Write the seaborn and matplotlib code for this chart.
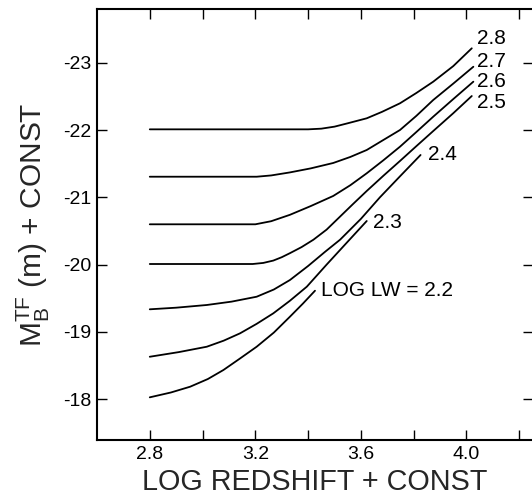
import numpy as np
import pandas as pd
import matplotlib
matplotlib.use("Agg")
import matplotlib.pyplot as plt
import seaborn as sns
from matplotlib.ticker import FixedLocator, FixedFormatter

# Tully-Fisher magnitude vs log redshift, one curve per log line width
lw_28_x = [2.80, 3.00, 3.20, 3.40, 3.45, 3.50, 3.55, 3.622, 3.68, 3.748, 3.81, 3.874, 3.95, 4.020]
lw_28_y = [-22.01, -22.01, -22.01, -22.01, -22.02, -22.05, -22.10, -22.174, -22.27, -22.397,
           -22.55, -22.718, -22.95, -23.214]

lw_27_x = [2.80, 3.00, 3.205, 3.26, 3.331, 3.41, 3.495, 3.56, 3.622, 3.68, 3.748, 3.81,
           3.874, 3.95, 4.026]
lw_27_y = [-21.306, -21.306, -21.306, -21.325, -21.37, -21.43, -21.51, -21.60, -21.703,
           -21.84, -22.00, -22.21, -22.446, -22.69, -22.94]

lw_26_x = [2.80, 3.00, 3.20, 3.26, 3.331, 3.41, 3.495, 3.56, 3.622, 3.685, 3.748, 3.81,
           3.874, 3.95, 4.026]
lw_26_y = [-20.599, -20.599, -20.599, -20.645, -20.74, -20.87, -21.02, -21.18, -21.357,
           -21.55, -21.752, -21.97, -22.198, -22.46, -22.718]

lw_25_x = [2.80, 3.00, 3.19, 3.23, 3.268, 3.30, 3.331, 3.375, 3.42, 3.47, 3.52, 3.57,
           3.622, 3.685, 3.748, 3.81, 3.874, 3.95, 4.020]
lw_25_y = [-20.009, -20.009, -20.009, -20.025, -20.06, -20.11, -20.17, -20.26, -20.37,
           -20.52, -20.71, -20.90, -21.094, -21.32, -21.54, -21.76, -21.985, -22.25, -22.505]

lw_24_x = [2.80, 2.90, 3.016, 3.11, 3.205, 3.27, 3.331, 3.40, 3.464, 3.521, 3.60, 3.672,
           3.75, 3.826]
lw_24_y = [-19.336, -19.36, -19.40, -19.45, -19.523, -19.63, -19.771, -19.98, -20.19,
           -20.37, -20.68, -21.0, -21.32, -21.629]

lw_23_x = [2.80, 2.91, 3.016, 3.08, 3.142, 3.205, 3.268, 3.33, 3.395, 3.47, 3.545, 3.622]
lw_23_y = [-18.631, -18.70, -18.780, -18.87, -18.979, -19.12, -19.276, -19.46, -19.672,
           -20.0, -20.32, -20.648]

lw_22_x = [2.80, 2.88, 2.953, 3.02, 3.079, 3.14, 3.205, 3.27, 3.331, 3.38, 3.426]
lw_22_y = [-18.028, -18.10, -18.186, -18.30, -18.434, -18.60, -18.780, -18.99, -19.226,
           -19.42, -19.612]

series_names = ["2.8", "2.7", "2.6", "2.5", "2.4", "2.3", "2.2"]
series_x = [lw_28_x, lw_27_x, lw_26_x, lw_25_x, lw_24_x, lw_23_x, lw_22_x]
series_y = [lw_28_y, lw_27_y, lw_26_y, lw_25_y, lw_24_y, lw_23_y, lw_22_y]

# curve labels: text, x, y (data coordinates)
label_text = ["2.8", "2.7", "2.6", "2.5", "2.4", "2.3", "LOG LW = 2.2"]
label_x = [4.04, 4.04, 4.04, 4.04, 3.854, 3.646, 3.449]
label_y = [-23.367, -23.018, -22.718, -22.409, -21.629, -20.633, -19.615]

x_ticks = [2.8, 3.0, 3.2, 3.4, 3.6, 3.8, 4.0, 4.2]
x_tick_labels = ["2.8", "", "3.2", "", "3.6", "", "4.0", ""]
y_ticks = [-23, -22, -21, -20, -19, -18]
y_tick_labels = ["-23", "-22", "-21", "-20", "-19", "-18"]

frames = []
for name, xs, ys in zip(series_names, series_x, series_y):
    frames.append(pd.DataFrame({"logz": xs, "mag": ys, "loglw": name}))
df = pd.concat(frames, ignore_index=True)

sns.set_theme(style="ticks")
plt.rcParams["font.family"] = ["Liberation Sans", "DejaVu Sans"]
plt.rcParams["mathtext.fontset"] = "custom"
plt.rcParams["mathtext.rm"] = "Liberation Sans"
plt.rcParams["mathtext.it"] = "Liberation Sans"

fig = plt.figure(figsize=(5.32, 5.00), dpi=100)
ax = fig.add_axes([97 / 532, 60 / 500, 436 / 532, 431 / 500])

sns.lineplot(data=df, x="logz", y="mag", hue="loglw", units="loglw",
             estimator=None, sort=True, palette=["black"] * 7,
             linewidth=1.3, legend=False, ax=ax)

for t, lx, ly in zip(label_text, label_x, label_y):
    ax.text(lx, ly, t, fontsize=15, va="center", ha="left", color="black")

ax.set_xlim(2.6, 4.252)
ax.set_ylim(-17.394, -23.798)

ax.xaxis.set_major_locator(FixedLocator(x_ticks))
ax.xaxis.set_major_formatter(FixedFormatter(x_tick_labels))
ax.yaxis.set_major_locator(FixedLocator(y_ticks))
ax.yaxis.set_major_formatter(FixedFormatter(y_tick_labels))
ax.tick_params(axis="both", which="major", direction="in", length=7.5,
               width=1.0, labelsize=14, colors="black",
               top=True, right=True, pad=4)

for side in ["left", "bottom", "top"]:
    ax.spines[side].set_linewidth(1.5)
    ax.spines[side].set_color("black")
ax.spines["right"].set_visible(False)

ax.set_xlabel("LOG REDSHIFT + CONST", fontsize=20.7, labelpad=4)
ax.set_ylabel(r"$\mathregular{M_B^{TF}}$ (m) + CONST", fontsize=21.5, labelpad=8)

fig.savefig("out.png", dpi=100)
